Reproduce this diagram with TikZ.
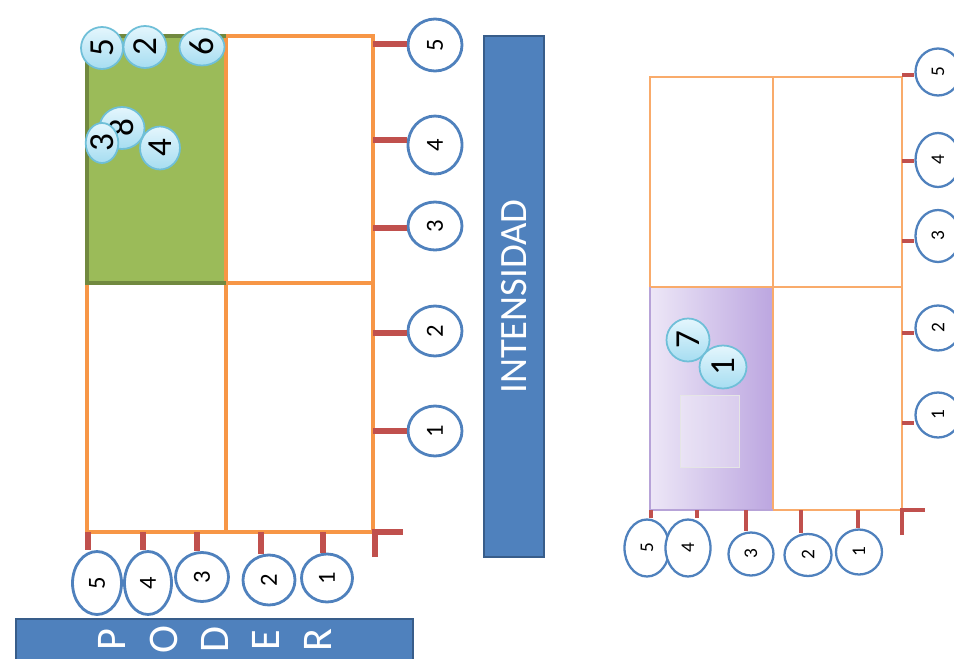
\documentclass[tikz,border=0pt]{standalone}
\usepackage{fontspec}
\setmainfont{Carlito}
\usepackage{xcolor}
\usetikzlibrary{positioning,shapes.geometric,calc}
\definecolor{gridorange}{HTML}{F79646}
\definecolor{tickred}{HTML}{C0504D}
\definecolor{leafgreen}{HTML}{9BBB59}
\definecolor{leafdark}{HTML}{71893F}
\definecolor{bannerblue}{HTML}{4F81BD}
\definecolor{bannerdark}{HTML}{385D8A}
\definecolor{ringblue}{HTML}{4F81BD}
\definecolor{bubbletop}{HTML}{E4F6FD}
\definecolor{bubblelow}{HTML}{A6DDF1}
\definecolor{bubbleedge}{HTML}{6FBFD8}
\definecolor{lilaclight}{HTML}{EDE7F7}
\definecolor{lilacdark}{HTML}{BCA6E0}
\definecolor{lilacedge}{HTML}{B7A3D8}
\newcommand{\upnum}[1]{\rotatebox{90}{#1}}
\tikzset{ring/.style={ellipse,draw=ringblue,line width=1.6pt,fill=white,inner sep=0pt,font=\fontsize{14}{17}\selectfont},
  smallring/.style={ring,line width=1.3pt,font=\fontsize{11}{13}\selectfont},
  bubble/.style={ellipse,draw=bubbleedge,line width=1pt,top color=bubbletop,bottom color=bubblelow,inner sep=0pt,font=\fontsize{20}{24}\selectfont},
  tickmark/.style={draw=tickred,line width=3.4pt},
  thintick/.style={draw=tickred,line width=2.3pt},
  gridline/.style={draw=gridorange,line width=2.2pt},
  thingrid/.style={draw=gridorange!80,line width=1.6pt},
  banner/.style={fill=bannerblue,draw=bannerdark,line width=1.5pt,inner sep=0pt,rotate=90,text=white}}

\begin{document}
\begin{tikzpicture}[x=0.02cm,y=-0.02cm]
\useasboundingbox (0,0) rectangle (954,659);
% poder / intensidad grid
\fill[leafgreen] (87,36) rectangle (226,283);
\draw[gridline] (87,283) -- (87,532) -- (373,532) -- (373,36) -- (226,36);
\draw[gridline] (226,36) -- (226,532) (226,283) -- (373,283);
\draw[draw=leafdark,line width=2.2pt] (226,36) -- (87,36) -- (87,283) -- (226,283);
\draw[tickmark] (375,557) -- (375,532) -- (403,532);
\coordinate (ax5) at (88,532);
\coordinate (ax4) at (143,532);
\coordinate (ax3) at (197,532);
\coordinate (ax2) at (261,532);
\coordinate (ax1) at (323,532);
\coordinate (ay5) at (373,44);
\coordinate (ay4) at (373,140);
\coordinate (ay3) at (373,228);
\coordinate (ay2) at (373,333);
\coordinate (ay1) at (373,431);
\node[ring,minimum width=0.98cm,minimum height=1.26cm] (p5) at (97,583) {\upnum{5}};
\node[ring,minimum width=0.94cm,minimum height=1.26cm] (p4) at (148,583) {\upnum{4}};
\node[ring,minimum width=1.06cm,minimum height=0.98cm] (p3) at (202,577) {\upnum{3}};
\node[ring,minimum width=1.04cm,minimum height=1.00cm] (p2) at (269,580) {\upnum{2}};
\node[ring,minimum width=1.02cm,minimum height=0.96cm] (p1) at (327,578) {\upnum{1}};
\node[ring,minimum width=1.08cm,minimum height=1.04cm] (i5) at (435,45) {\upnum{5}};
\node[ring,minimum width=1.08cm,minimum height=1.16cm] (i4) at (435,145) {\upnum{4}};
\node[ring,minimum width=1.08cm,minimum height=0.96cm] (i3) at (435,226) {\upnum{3}};
\node[ring,minimum width=1.08cm,minimum height=1.00cm] (i2) at (435,331) {\upnum{2}};
\node[ring,minimum width=1.08cm,minimum height=1.00cm] (i1) at (435,431) {\upnum{1}};
\draw[tickmark] (ax5) -- (ax5 |- p5.north);
\draw[tickmark] (ax4) -- (ax4 |- p4.north);
\draw[tickmark] (ax3) -- (ax3 |- p3.north);
\draw[tickmark] (ax2) -- (ax2 |- p2.north);
\draw[tickmark] (ax1) -- (ax1 |- p1.north);
\draw[tickmark] (ay5) -- (ay5 -| i5.west);
\draw[tickmark] (ay4) -- (ay4 -| i4.west);
\draw[tickmark] (ay3) -- (ay3 -| i3.west);
\draw[tickmark] (ay2) -- (ay2 -| i2.west);
\draw[tickmark] (ay1) -- (ay1 -| i1.west);
% bubbles in the green cell
\node[bubble,minimum width=0.84cm,minimum height=0.84cm] (b5) at (102,48) {\upnum{5}};
\node[bubble,minimum width=0.86cm,minimum height=0.84cm] (b2) at (145,47) {\upnum{2}};
\node[bubble,minimum width=0.90cm,minimum height=0.74cm] (b6) at (202,47) {\upnum{6}};
\node[bubble,minimum width=0.90cm,minimum height=0.84cm] (b8) at (122,128) {\upnum{8}};
\node[bubble,minimum width=0.56cm,minimum height=0.80cm] (b3) at (102,143) {\upnum{3}};
\node[bubble,minimum width=0.80cm,minimum height=0.86cm] (b4) at (160,148) {\upnum{4}};
% banners
\node[banner,minimum width=10.42cm,minimum height=1.20cm,font=\fontsize{22}{26}\selectfont] (intensidad) at (514,296.5) {INTENSIDAD};
\node[banner,minimum width=1.24cm,minimum height=7.94cm] (poder) at (214.5,650) {};
\node[rotate=90,align=center,text=white,inner sep=0pt,font=\fontsize{24}{29.2}\selectfont] (poderword) at (215,640) {P\\O\\D\\E\\R};
% second grid
\shade[left color=lilaclight,right color=lilacdark] (650,287) rectangle (773,510);
\draw[draw=black!10,fill=white,fill opacity=0.3] (680,395) rectangle (739,467);
\draw[thingrid] (650,287) -- (650,77) -- (902,77) -- (902,510) -- (773,510);
\draw[thingrid] (773,77) -- (773,510) (650,287) -- (902,287);
\draw[draw=lilacedge,line width=1.6pt] (650,287) -- (650,510) -- (773,510);
\draw[thintick] (902,535) -- (902,510) -- (925,510);
\coordinate (bx5) at (651,510);
\coordinate (bx4) at (697,510);
\coordinate (bx3) at (746,510);
\coordinate (bx2) at (801,510);
\coordinate (bx1) at (858,510);
\coordinate (by5) at (902,75);
\coordinate (by4) at (902,161);
\coordinate (by3) at (902,241);
\coordinate (by2) at (902,333);
\coordinate (by1) at (902,423);
\node[smallring,minimum width=0.90cm,minimum height=1.14cm] (q5) at (647,548) {\upnum{5}};
\node[smallring,minimum width=0.90cm,minimum height=1.14cm] (q4) at (688,548) {\upnum{4}};
\node[smallring,minimum width=0.90cm,minimum height=0.86cm] (q3) at (751,554) {\upnum{3}};
\node[smallring,minimum width=0.94cm,minimum height=0.84cm] (q2) at (808,555) {\upnum{2}};
\node[smallring,minimum width=0.92cm,minimum height=0.90cm] (q1) at (859,552) {\upnum{1}};
\node[smallring,minimum width=0.90cm,minimum height=0.94cm] (j5) at (938,72) {\upnum{5}};
\node[smallring,minimum width=0.90cm,minimum height=1.08cm] (j4) at (938,160) {\upnum{4}};
\node[smallring,minimum width=0.90cm,minimum height=1.04cm] (j3) at (938,236) {\upnum{3}};
\node[smallring,minimum width=0.90cm,minimum height=0.90cm] (j2) at (938,328) {\upnum{2}};
\node[smallring,minimum width=0.90cm,minimum height=0.90cm] (j1) at (938,415) {\upnum{1}};
\draw[thintick] (bx5) -- (bx5 |- q5.north);
\draw[thintick] (bx4) -- (bx4 |- q4.north);
\draw[thintick] (bx3) -- (bx3 |- q3.north);
\draw[thintick] (bx2) -- (bx2 |- q2.north);
\draw[thintick] (bx1) -- (bx1 |- q1.north);
\draw[thintick] (by5) -- (by5 -| j5.west);
\draw[thintick] (by4) -- (by4 -| j4.west);
\draw[thintick] (by3) -- (by3 -| j3.west);
\draw[thintick] (by2) -- (by2 -| j2.west);
\draw[thintick] (by1) -- (by1 -| j1.west);
% bubbles in the lilac cell
\node[bubble,minimum width=0.86cm,minimum height=0.86cm] (v7) at (688,340) {\upnum{7}};
\node[bubble,minimum width=0.94cm,minimum height=0.86cm] (v1) at (723,367) {\upnum{1}};
\end{tikzpicture}
\end{document}
